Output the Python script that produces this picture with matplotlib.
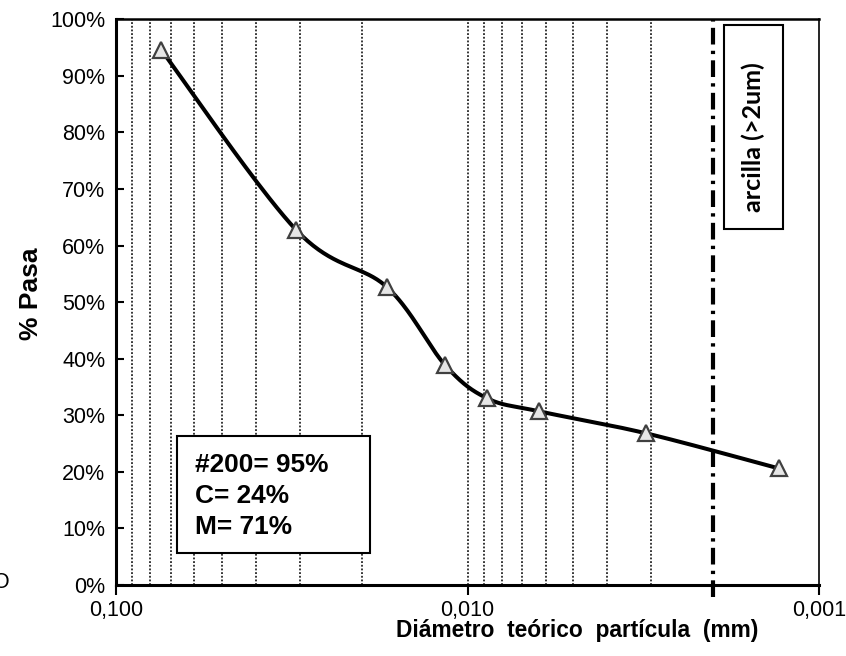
import numpy as np
import matplotlib
matplotlib.use("Agg")
import matplotlib.pyplot as plt
from matplotlib.ticker import FixedLocator, FuncFormatter
import matplotlib.transforms as mtransforms
from matplotlib.patches import Rectangle

# ---- data ----
diametro = [0.0745, 0.0307, 0.0170, 0.0116, 0.00880, 0.00626, 0.00310, 0.00130]
pasa = [94.6, 62.7, 52.7, 38.9, 33.0, 30.7, 26.8, 20.6]
limite_arcilla = 0.002
y_ticks = [0, 10, 20, 30, 40, 50, 60, 70, 80, 90, 100]
x_major = [0.1, 0.01, 0.001]
grid_x = [0.09, 0.08, 0.07, 0.06, 0.05, 0.04, 0.03, 0.02, 0.01,
          0.009, 0.008, 0.007, 0.006, 0.005, 0.004, 0.003]
info_text = "#200= 95%\nC= 24%\nM= 71%"
arcilla_text = "arcilla (>2um)"

plt.rcParams['font.family'] = ['Liberation Sans', 'DejaVu Sans']

fig = plt.figure(figsize=(8.46, 6.56), dpi=100)
ax = fig.add_axes([116.3/846, 1-585/656, (819-116.3)/846, (585-19.3)/656])

# smooth curve (Excel-like Bezier / Catmull-Rom) in log-x space
lx = np.log10(diametro)
py = np.array(pasa, dtype=float)
P = np.column_stack([lx, py])
n = len(P)
curve = []
t = np.linspace(0, 1, 40)
for i in range(n - 1):
    p0 = P[i - 1] if i > 0 else P[i]
    p1 = P[i]
    p2 = P[i + 1]
    p3 = P[i + 2] if i + 2 < n else P[i + 1]
    b1 = p1 + (p2 - p0) / 6.0
    b2 = p2 - (p3 - p1) / 6.0
    seg = ((1 - t)**3)[:, None]*p1 + (3*(1 - t)**2*t)[:, None]*b1 + \
          (3*(1 - t)*t**2)[:, None]*b2 + (t**3)[:, None]*p2
    curve.append(seg)
curve = np.vstack(curve)

ax.set_xscale('log')
ax.set_xlim(0.1, 0.001)
ax.set_ylim(0, 100)

for g in grid_x:
    ax.axvline(g, color='black', linestyle=(0, (1.2, 1.2)), linewidth=1.1, zorder=1)

trans = mtransforms.blended_transform_factory(ax.transData, ax.transAxes)
ax.plot([limite_arcilla, limite_arcilla], [-0.022, 1.0], transform=trans,
        color='black', linewidth=3.0, linestyle=(0, (4, 1.5, 0.8, 1.5)),
        clip_on=False, zorder=3)

ax.plot(10**curve[:, 0], curve[:, 1], color='black', linewidth=2.9, zorder=4,
        solid_capstyle='round')
ax.plot(diametro, pasa, linestyle='none', marker='^', markersize=11.5,
        markerfacecolor='#e6e6e6', markeredgecolor='#404040', markeredgewidth=1.6, zorder=5)

ax.yaxis.set_major_locator(FixedLocator(y_ticks))
ax.yaxis.set_major_formatter(FuncFormatter(lambda v, p: f"{int(round(v))}%"))
ax.xaxis.set_major_locator(FixedLocator(x_major))
ax.xaxis.set_minor_locator(FixedLocator([]))
ax.xaxis.set_major_formatter(FuncFormatter(lambda v, p: f"{v:.3f}".replace('.', ',')))

ax.tick_params(axis='y', direction='in', length=6, width=1.5, labelsize=15.5, pad=8)
ax.tick_params(axis='x', direction='out', length=7, width=1.5, labelsize=15.5, pad=4)

for side, lw in [('left', 2.2), ('bottom', 2.2), ('top', 1.8), ('right', 1.2)]:
    ax.spines[side].set_linewidth(lw)
    ax.spines[side].set_color('black')

fig.text(31/846, 1-294/656, '% Pasa', rotation=90, ha='center', va='center',
         fontsize=19, fontweight='bold')
fig.text(577/846, 1-631/656, 'Diámetro  teórico  partícula  (mm)', ha='center', va='center',
         fontsize=16.4, fontweight='bold')

# info box
fig.patches.append(Rectangle((176.7/846, 1-552.7/656), (370-176.7)/846, (552.7-436)/656,
                             transform=fig.transFigure, facecolor='white', edgecolor='black',
                             linewidth=1.5, zorder=5))
fig.text(195/846, 1-496/656, info_text, ha='left', va='center',
         fontsize=18.9, fontweight='bold', linespacing=1.38, zorder=7)

# arcilla box
fig.patches.append(Rectangle((724/846, 1-229/656), (782.7-724)/846, (229-25)/656,
                             transform=fig.transFigure, facecolor='white', edgecolor='black',
                             linewidth=1.5, zorder=5))
fig.text(753.5/846, 1-137/656, arcilla_text, rotation=90, ha='center', va='center',
         fontsize=18, fontweight='bold', family=['Lato', 'DejaVu Sans'], zorder=7)

fig.text(-7/846, 1-582/656, 'O', ha='left', va='center', fontsize=15.5)

fig.savefig('out.png', dpi=100)
